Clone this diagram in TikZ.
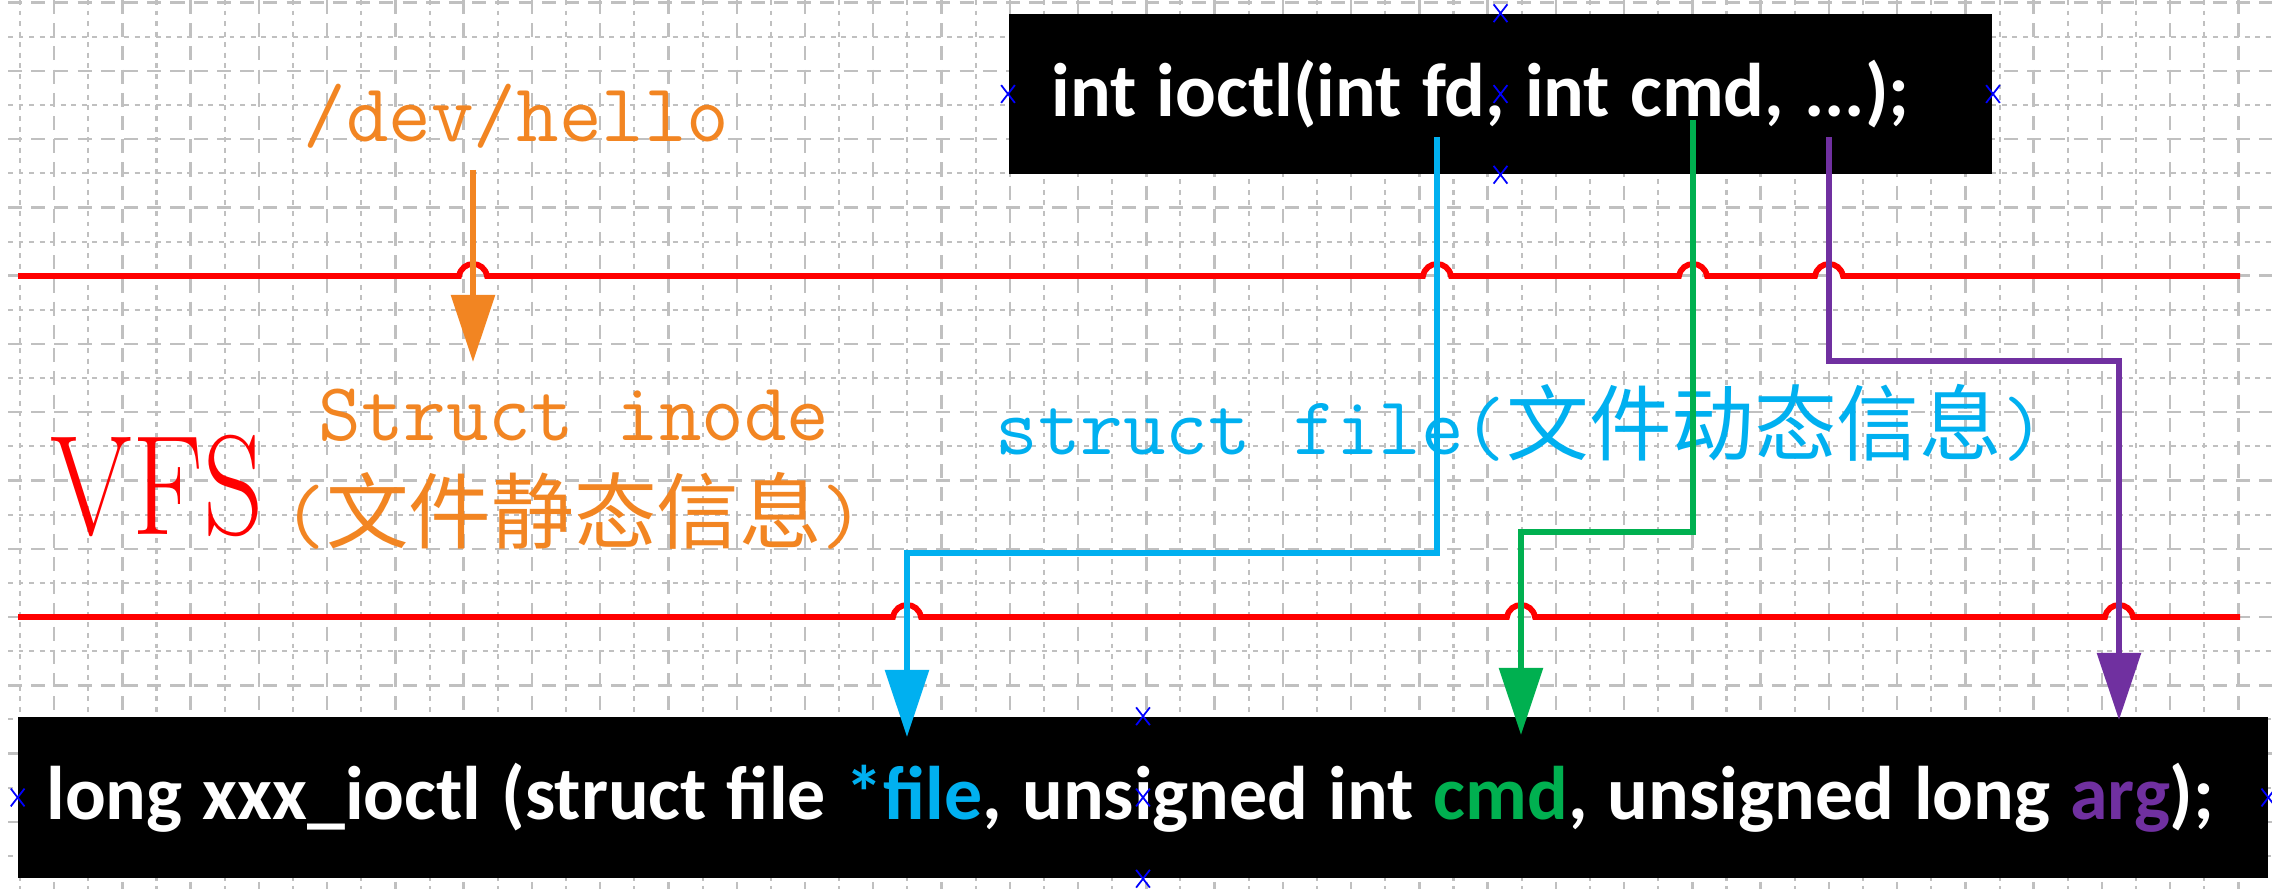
\documentclass[tikz,border=0pt]{standalone}
\usepackage{fontspec}
\setsansfont{Carlito}
\newfontfamily\cjkfont{Noto Sans CJK SC}
\usetikzlibrary{arrows.meta,positioning,calc,shapes.misc}
\definecolor{vfsred}{RGB}{255,0,0}
\definecolor{inodeorange}{RGB}{242,133,34}
\definecolor{filecyan}{RGB}{0,176,240}
\definecolor{cmdgreen}{RGB}{0,176,80}
\definecolor{argpurple}{RGB}{112,48,160}
\definecolor{gridgray}{RGB}{192,192,192}
\newcommand\codeline[2]{\makebox[#1][l]{\spaceskip=5.7pt\relax #2}}

\begin{document}
\begin{tikzpicture}[
    x=0.01cm, y=-0.01cm,
    griddot/.style={gridgray, line width=0.6pt, dash pattern=on 1.4pt off 1.6pt},
    griddash/.style={gridgray, line width=0.7pt, dash pattern=on 4pt off 2.6pt},
    level/.style={vfsred, line width=0.058cm},
    wire/.style={line width=0.058cm, -{Triangle[length=0.67cm,width=0.43cm]}},
    code/.style={fill=black, text=white, font=\fontsize{21.6}{26}\sffamily\bfseries, inner ysep=0pt},
    mono/.style={font=\fontsize{23.5}{29}\ttfamily, inner sep=0pt},
    handle/.style={cross out, draw=blue, line width=0.5pt, minimum width=0.12cm, minimum height=0.16cm, inner sep=0pt}]
    \fill[white] (0,0) rectangle (2272,889);
    \useasboundingbox (0,0) rectangle (2272,889);

    % background grid
    \foreach \i in {0,...,65}{
      \pgfmathsetmacro\gx{20+34.13*\i}
      \ifodd\i \draw[griddash] (\gx,0) -- (\gx,889); \else \draw[griddot] (\gx,0) -- (\gx,889); \fi
    }
    \foreach \j in {0,...,26}{
      \pgfmathsetmacro\gy{2.7+34.13*\j}
      \ifodd\j \draw[griddot] (8,\gy) -- (2272,\gy); \else \draw[griddash] (8,\gy) -- (2272,\gy); \fi
    }

    % the two VFS levels, with hops
    \draw[level] (18,276) \foreach \h in {473,1437,1693,1829}{
      -- (\h-14,276) .. controls (\h-11,260) and (\h+11,260) .. (\h+14,276)} -- (2240,276);
    \draw[level] (18,617) \foreach \h in {907,1521,2119}{
      -- (\h-14,617) .. controls (\h-11,601) and (\h+11,601) .. (\h+14,617)} -- (2240,617);

    \node[mono, text=inodeorange, anchor=base west] (dev) at (303,142) {/dev/hello};
    \node[mono, text=inodeorange, align=center, anchor=north] (inode) at (574,388)
      {Struct inode\\({\cjkfont 文件静态信息})};
    \node[anchor=base west, inner sep=0pt, text=vfsred, font=\fontsize{40.4}{48}\rmfamily] (vfs) at (50,535)
      {\scalebox{0.83}[1]{VFS}};
    \node[mono, text=filecyan, anchor=base west] (file) at (995,455)
      {struct file({\cjkfont 文件动态信息})};

    \node[code, minimum width=9.83cm, minimum height=1.6cm] (ioctl) at (1500.5,94)
      {\codeline{8.97cm}{int ioctl(int fd, int cmd, ...);}};
    \node[code, minimum width=22.48cm, minimum height=1.61cm] (xxx) at (1143,797.5)
      {\codeline{21.92cm}{long xxx\_ioctl (struct file \textcolor{filecyan}{*file}, unsigned int \textcolor{cmdgreen}{cmd}, unsigned long \textcolor{argpurple}{arg});}};

    \coordinate (devdrop) at (473,170);
    \coordinate (inodein) at (473,362);
    \coordinate (fdout) at (1437,137);
    \coordinate (fdin) at (907,737);
    \coordinate (cmdout) at (1693,120);
    \coordinate (cmdin) at (1521,735);
    \coordinate (argout) at (1829,137);
    \coordinate (argin) at (2119,720);

    \draw[wire, inodeorange] (devdrop) -- (inodein);
    \draw[wire, filecyan] (fdout) -- ++(0,416) -| (fdin);
    \draw[wire, cmdgreen] (cmdout) -- ++(0,412) -| (cmdin);
    \draw[wire, argpurple] (argout) -- ++(0,224) -| (argin);

    % selection handles
    \foreach \a [count=\k] in {north,center,south,west,east}{
      \node[handle] (ioctlmark\k) at (ioctl.\a) {};
      \node[handle] (xxxmark\k) at (xxx.\a) {};
    }
\end{tikzpicture}
\end{document}
